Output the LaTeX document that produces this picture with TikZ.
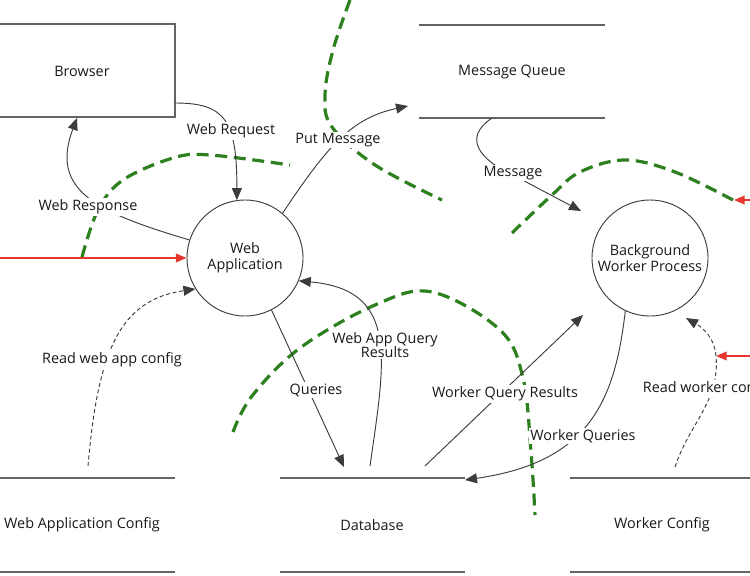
\documentclass[tikz,border=0pt]{standalone}
\usepackage{fontspec}
\setmainfont{Open Sans}
\usetikzlibrary{arrows.meta}
\definecolor{ink}{RGB}{25,25,25}
\definecolor{boxline}{RGB}{100,100,100}
\definecolor{grn}{RGB}{45,128,30}
\definecolor{rd}{RGB}{228,55,45}
\begin{document}
\begin{tikzpicture}[x=0.75pt,y=-0.75pt,
  font=\fontsize{10.8}{12}\selectfont,
  txt/.style={text=ink, align=center, inner sep=1pt},
  lbl/.style={text=ink, fill=white, align=center, inner sep=1.2pt},
  proc/.style={circle, draw=ink!85, line width=0.7pt, minimum size=87pt, inner sep=0pt, text=ink, align=center},
  flow/.style={draw=ink!85, line width=0.7pt, -{Triangle[length=9pt,width=7.5pt]}},
  cfgflow/.style={flow, dashed, dash pattern=on 3pt off 2pt},
  storeline/.style={draw=boxline, line width=1pt},
  boundary/.style={draw=grn, line width=2.4pt, dash pattern=on 9pt off 5pt},
  inflow/.style={draw=rd, line width=1.1pt, -{Triangle[length=8pt,width=6.5pt]}}]
\useasboundingbox (0,0) rectangle (750,575);
\clip (0,0) rectangle (750,575);

% Browser (external entity)
\draw[draw=boxline, line width=1pt] (-2,24) rectangle (175,117);
\node[txt] (browser) at (82,71) {Browser};
\coordinate (brR) at (175,103);
\coordinate (brB) at (77,118);

% Message queue store
\draw[storeline] (419,25) -- (605,25);
\draw[storeline] (419,118) -- (605,118);
\node[txt] (mq) at (512,72) {Message Queue};
\coordinate (mqB) at (492,118);

% Stores at bottom
\draw[storeline] (0,478) -- (175,478);
\draw[storeline] (0,572) -- (175,572);
\node[txt] (wacfg) at (82,525) {Web Application Config};
\draw[storeline] (280,478) -- (465,478);
\draw[storeline] (280,572) -- (465,572);
\node[txt] (db) at (372,525) {Database};
\draw[storeline] (570,478) -- (752,478);
\draw[storeline] (570,572) -- (752,572);
\node[txt] (wcfg) at (662,525) {Worker Config};

% Processes
\node[proc] (wa) at (245,258) {Web\\Application};
\node[proc] (bw) at (650,258) {Background\\Worker Process};

% endpoints
\coordinate (wacfgT) at (88,466);
\coordinate (dbQ) at (344,467);
\coordinate (dbR) at (370,466);
\coordinate (dbW) at (425,466);
\coordinate (dbIn) at (465,480);
\coordinate (wcfgT) at (675,467);
\coordinate (mqIn) at (408,106);
\coordinate (bwMsg) at (581,211);
\coordinate (bwQR) at (583,315);
\coordinate (bwCfg) at (686,318);
\coordinate (bend) at (716,356);
\coordinate (redL) at (0,258);
\coordinate (redR1) at (752,200);
\coordinate (redR1e) at (734,200);
\coordinate (redR2) at (752,356);

% Trust boundaries (green dashed)
\draw[boundary] plot[smooth, tension=0.6] coordinates {(350,0) (333,50) (325,95) (332,127) (375,165) (442,200)};
\draw[boundary] plot[smooth, tension=0.6] coordinates {(82,257) (98,210) (123,180) (173,158) (210,155) (290,165)};
\draw[boundary] plot[smooth, tension=0.6] coordinates {(512,233) (552,195) (580,172) (625,160) (675,172) (733,200)};
\draw[boundary] plot[smooth, tension=0.6] coordinates {(233,432) (252,396) (300,348) (375,305) (432,292) (500,330) (523,378) (531,452) (535,515)};

% Flows
\draw[flow] (brR) .. controls (225,103) and (237,120) .. (wa.98);
\node[lbl] (lwr) at (231,131) {Web Request};
\draw[flow] (wa.162) .. controls (95,212) and (50,190) .. (brB);
\node[lbl] (lwresp) at (88,207) {Web Response};
\draw[flow] (wa.50) .. controls (328,145) and (352,118) .. (mqIn);
\node[lbl] (lpm) at (338,140) {Put Message};
\draw[flow] (mqB) .. controls (462,138) and (480,160) .. (513,175) -- (bwMsg);
\node[lbl] (lmsg) at (513,173) {Message};
\draw[flow] (wa.297) -- (dbQ);
\node[lbl] (lq) at (316,390) {Queries};
\draw[flow] (dbR) .. controls (385,360) and (400,290) .. (wa.337);
\node[lbl] (lwaqr) at (385,345) {Web App Query\\[-2pt]Results};
\draw[flow] (dbW) -- (bwQR);
\node[lbl] (lwqr) at (505,394) {Worker Query Results};
\draw[flow] (bw.245) .. controls (615,400) and (590,462) .. (dbIn);
\node[lbl] (lwq) at (583,436) {Worker Queries};
\draw[cfgflow] (wacfgT) .. controls (98,350) and (120,300) .. (wa.212);
\node[lbl] (lrwa) at (112,360) {Read web app config};
\draw[cfgflow] (wcfgT) to[out=72,in=-85] (bend) to[out=95,in=-30] (bwCfg);
\node[lbl, anchor=west] (lrwc) at (641,389) {Read worker config};

% Red inputs
\draw[inflow] (redL) -- (wa.180);
\draw[inflow] (redR1) -- (redR1e);
\draw[inflow] (redR2) -- (bend);
\end{tikzpicture}
\end{document}
